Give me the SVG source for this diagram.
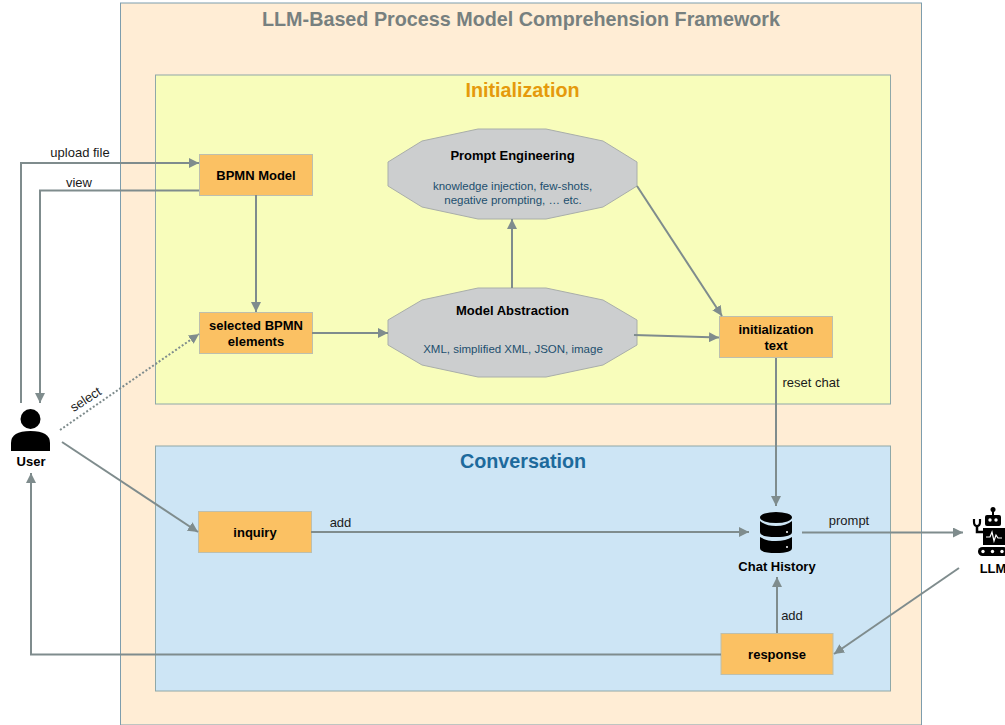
<svg xmlns="http://www.w3.org/2000/svg" width="1005" height="725" viewBox="0 0 1005 725">
<style>
text{font-family:"Liberation Sans",Arial,sans-serif;fill:#000}
.b{font-weight:bold;font-size:13px}
.l{font-size:13px;fill:#1a1a1a}
.s{font-size:11.500px;fill:#1c4e6e}
.box{fill:#fbc163;stroke:#bdbfae;stroke-width:1}
.oct{fill:#cccecf;stroke:#a9aeaa;stroke-width:1}
.c{fill:none;stroke:#7f8c8d;stroke-width:2}
</style>
<defs>
<marker id="a" viewBox="0 0 10 10" refX="10" refY="5" markerWidth="10" markerHeight="10" markerUnits="userSpaceOnUse" orient="auto"><path d="M0 0L10 5L0 10Z" fill="#7f8c8d"/></marker>
</defs>
<rect width="1005" height="725" fill="#fff"/>
<g id="frame">
<rect x="120.500" y="3" width="801" height="722" fill="#ffedd5" stroke="#7d9dad" stroke-width="1"/>
<text x="521" y="25.500" text-anchor="middle" font-weight="bold" font-size="19.750" style="fill:#77807f">LLM-Based Process Model Comprehension Framework</text>
</g>
<g id="initialization">
<rect x="155.500" y="75" width="735" height="329" fill="#f8fdbb" stroke="#8fa8a8" stroke-width="1"/>
<text x="522.500" y="97" text-anchor="middle" font-weight="bold" font-size="19.750" style="fill:#e59a0b">Initialization</text>
</g>
<g id="conversation">
<rect x="155.500" y="446" width="735" height="245" fill="#cde5f5" stroke="#8fa8a8" stroke-width="1"/>
<text x="523" y="468" text-anchor="middle" font-weight="bold" font-size="19.750" style="fill:#1d6a9c">Conversation</text>
</g>
<g id="bpmn-model"><rect class="box" x="199.500" y="154.500" width="113" height="41"/><text class="b" x="256" y="180" text-anchor="middle">BPMN Model</text></g>
<g id="selected-elements"><rect class="box" x="199.500" y="312.500" width="113" height="41"/><text class="b" x="256" y="330" text-anchor="middle">selected BPMN</text><text class="b" x="256" y="346" text-anchor="middle">elements</text></g>
<g id="prompt-engineering"><polygon class="oct" points="478,129 546,129 603,141 637,162 637,186 603,207 546,219 478,219 422,207 388,186 388,162 422,141"/><text class="b" x="512.500" y="160" text-anchor="middle">Prompt Engineering</text><text class="s" x="512.500" y="190" text-anchor="middle">knowledge injection, few-shots,</text><text class="s" x="513" y="204" text-anchor="middle">negative prompting, … etc.</text></g>
<g id="model-abstraction"><polygon class="oct" points="478,288 546,288 603,300 637,320 637,345 603,365 546,377 478,377 422,365 388,345 388,320 422,300"/><text class="b" x="512.500" y="315" text-anchor="middle">Model Abstraction</text><text class="s" x="513" y="353" text-anchor="middle">XML, simplified XML, JSON, image</text></g>
<g id="initialization-text"><rect class="box" x="719.500" y="316.500" width="113" height="41"/><text class="b" x="776" y="334" text-anchor="middle">initialization</text><text class="b" x="776" y="350" text-anchor="middle">text</text></g>
<g id="inquiry"><rect class="box" x="198.500" y="511.500" width="113" height="41"/><text class="b" x="255" y="537" text-anchor="middle">inquiry</text></g>
<g id="response"><rect class="box" x="721" y="633.500" width="112" height="41"/><text class="b" x="777" y="659" text-anchor="middle">response</text></g>
<g id="connectors">
<path class="c" marker-end="url(#a)" d="M21 403V163H199"/>
<path class="c" marker-end="url(#a)" d="M199 190.500H40V403"/>
<path class="c" marker-end="url(#a)" d="M256 195V312"/>
<path class="c" stroke-dasharray="2 2" marker-end="url(#a)" d="M60 430L199 334"/>
<path class="c" marker-end="url(#a)" d="M312 333H388"/>
<path class="c" marker-end="url(#a)" d="M512 288V219"/>
<path class="c" marker-end="url(#a)" d="M634 335L719 337.500"/>
<path class="c" marker-end="url(#a)" d="M637 186L722 316"/>
<path class="c" marker-end="url(#a)" d="M776 358V506"/>
<path class="c" marker-end="url(#a)" d="M62 442L198 532"/>
<path class="c" marker-end="url(#a)" d="M311 532H749"/>
<path class="c" marker-end="url(#a)" d="M802 532.500H963"/>
<path class="c" marker-end="url(#a)" d="M777 633V577"/>
<path class="c" marker-end="url(#a)" d="M959 568L834 654"/>
<path class="c" marker-end="url(#a)" d="M721 654.500H31V473"/>
</g>
<g id="connector-labels">
<text class="l" x="80" y="157" text-anchor="middle">upload file</text>
<text class="l" x="79" y="186.500" text-anchor="middle">view</text>
<text class="l" x="0" y="0" text-anchor="middle" transform="translate(88 403) rotate(-33)">select</text>
<text class="l" x="811" y="387" text-anchor="middle">reset chat</text>
<text class="l" x="340.500" y="527" text-anchor="middle">add</text>
<text class="l" x="849" y="525" text-anchor="middle">prompt</text>
<text class="l" x="792" y="620" text-anchor="middle">add</text>
</g>
<g id="user"><circle cx="30.500" cy="419" r="10"/><path d="M11 451V443Q11 431 30.500 431Q50 431 50 443V451Z"/><text class="b" x="31" y="466" text-anchor="middle">User</text></g>
<g id="chat-history">
<ellipse cx="776" cy="517.500" rx="16" ry="5.500"/>
<path d="M760 521Q766 526 776 526Q786 526 792 521V532Q792 537 776 537Q760 537 760 532Z"/>
<path d="M760 537Q766 541 776 541Q786 541 792 537V548Q792 553 776 553Q760 553 760 548Z"/>
<circle cx="787" cy="532" r="1" fill="#fff"/><circle cx="787" cy="547" r="1" fill="#fff"/>
<text class="b" x="777" y="570.500" text-anchor="middle">Chat History</text></g>
<g id="llm">
<circle cx="993" cy="509.500" r="2.500"/><rect x="992" y="510" width="2" height="6"/>
<rect x="985" y="515" width="16" height="11" rx="2"/><circle cx="990" cy="520" r="1.700" fill="#fff"/><circle cx="996" cy="520" r="1.700" fill="#fff"/>
<rect x="983" y="528" width="22" height="17"/><path d="M986 537H990L992 532L994 541L996 535L998 538H1002" fill="none" stroke="#fff" stroke-width="1.200"/>
<path d="M977 525V532H984" fill="none" stroke="#000" stroke-width="2.500"/><path d="M974 519V522Q974 526 977 526Q980 526 980 522V519" fill="none" stroke="#000" stroke-width="2.200"/>
<rect x="978" y="547" width="30" height="9" rx="4.500"/>
<circle cx="983" cy="551.500" r="1.700" fill="#fff"/><circle cx="992.500" cy="551.500" r="1.700" fill="#fff"/><circle cx="1002" cy="551.500" r="1.700" fill="#fff"/>
<text class="b" x="993" y="573" text-anchor="middle">LLM</text></g>
</svg>
